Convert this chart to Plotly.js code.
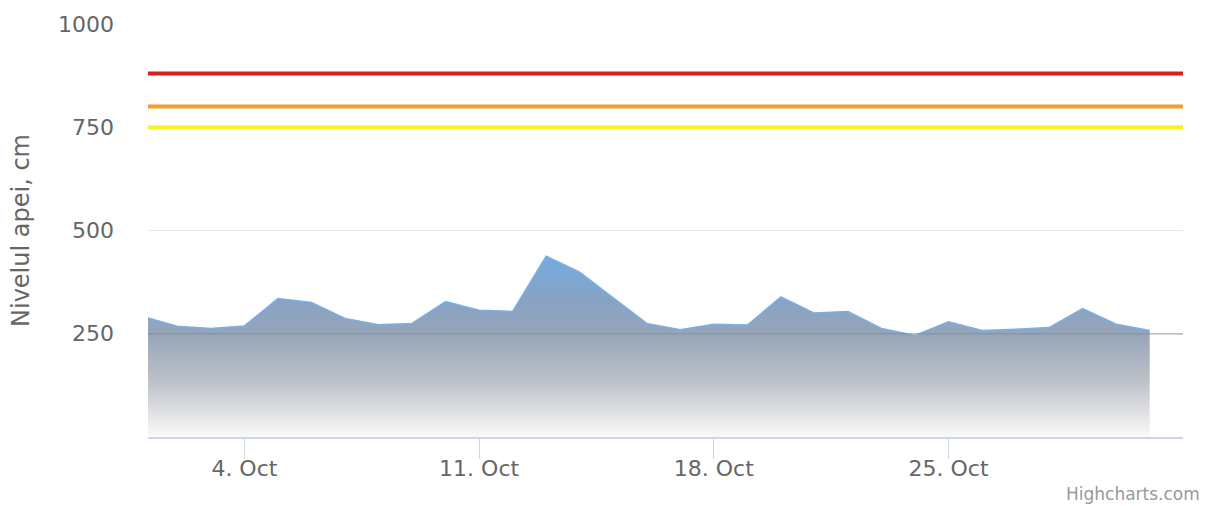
<!DOCTYPE html>
<html>
<head>
<meta charset="utf-8">
<script src="https://cdn.plot.ly/plotly-3.0.1.min.js"></script>
<style>
  html, body { margin: 0; padding: 0; background: #ffffff; }
  #chart { width: 1207px; height: 506px; }
</style>
</head>
<body>
<div id="chart"></div>
<script>
// ---- data ----
const dates = [
  '2021-10-01','2021-10-02','2021-10-03','2021-10-04','2021-10-05','2021-10-06','2021-10-07',
  '2021-10-08','2021-10-09','2021-10-10','2021-10-11','2021-10-12','2021-10-13','2021-10-14',
  '2021-10-15','2021-10-16','2021-10-17','2021-10-18','2021-10-19','2021-10-20','2021-10-21',
  '2021-10-22','2021-10-23','2021-10-24','2021-10-25','2021-10-26','2021-10-27','2021-10-28',
  '2021-10-29','2021-10-30','2021-10-31'
];
const waterLevel = [
  291, 268, 263, 269, 335, 326, 287,
  272, 275, 328, 307, 304, 438, 399,
  337, 275, 260, 273, 271, 339, 300,
  304, 263, 246, 279, 258, 261, 265,
  311, 273, 258
];
const thresholdValues = [880, 800, 750];
const thresholdColors = ['#d8201c', '#f0a02c', '#fff022'];
const yTicks = [250, 500, 750, 1000];
const yTickLabels = ['250', '500', '750', '1000'];
const xRange = ['2021-10-01 03:00', '2021-10-31 23:50'];
const yTitle = 'Nivelul apei, cm';
const credit = 'Highcharts.com';

const font = '"DejaVu Sans", Verdana, sans-serif';

const trace = {
  type: 'scatter',
  mode: 'lines',
  x: dates,
  y: waterLevel,
  fill: 'tozeroy',
  line: { color: '#7aaee6', width: 1.5 },
  fillgradient: {
    type: 'vertical',
    start: 0,
    stop: 440,
    colorscale: [
      [0, 'rgb(250,250,250)'],
      [0.3, 'rgb(190,194,201)'],
      [0.57, 'rgb(150,165,184)'],
      [0.75, 'rgb(135,163,195)'],
      [1, 'rgb(116,170,226)']
    ]
  },
  hoverinfo: 'x+y',
  showlegend: false
};

const shapes = thresholdValues.map((v, i) => ({
  type: 'line', xref: 'paper', x0: 0, x1: 1, yref: 'y', y0: v, y1: v,
  line: { color: thresholdColors[i], width: 4 }, layer: 'above'
}));
// gridline at first tick visible through the fill
shapes.push({
  type: 'line', xref: 'paper', x0: 0, x1: 1, yref: 'y', y0: yTicks[0], y1: yTicks[0],
  line: { color: 'rgba(110,122,140,0.35)', width: 1.5 }, layer: 'above'
});

const layout = {
  width: 1207,
  height: 506,
  margin: { l: 148, r: 24, t: 24, b: 69 },
  paper_bgcolor: '#ffffff',
  plot_bgcolor: '#ffffff',
  font: { family: font, color: '#666666', size: 22 },
  xaxis: {
    type: 'date',
    range: xRange,
    tick0: '2021-10-04',
    dtick: 7 * 24 * 3600 * 1000,
    tickformat: '%-d. %b',
    ticks: 'outside',
    ticklen: 20,
    tickwidth: 1,
    tickcolor: '#ccd6eb',
    ticklabelstandoff: -9,
    showgrid: false,
    showline: true,
    linecolor: '#ccd6eb',
    linewidth: 2,
    zeroline: false,
    tickfont: { family: font, size: 22, color: '#666666' }
  },
  yaxis: {
    range: [0, 1000],
    tickmode: 'array',
    tickvals: yTicks,
    ticktext: yTickLabels,
    showgrid: true,
    gridcolor: '#e6e6e6',
    gridwidth: 1.5,
    zeroline: false,
    showline: false,
    ticks: '',
    ticklabelstandoff: 33,
    tickfont: { family: font, size: 22, color: '#666666' },
    title: { text: yTitle, font: { family: font, size: 24, color: '#666666' }, standoff: 21 }
  },
  shapes: shapes,
  annotations: [{
    text: credit, xref: 'paper', yref: 'paper', x: 1, y: 0,
    xanchor: 'right', yanchor: 'middle', xshift: 19, yshift: -57,
    showarrow: false, font: { family: font, size: 17, color: '#999999' }
  }]
};

Plotly.newPlot('chart', [trace], layout, { displayModeBar: false, staticPlot: true });
</script>
</body>
</html>
